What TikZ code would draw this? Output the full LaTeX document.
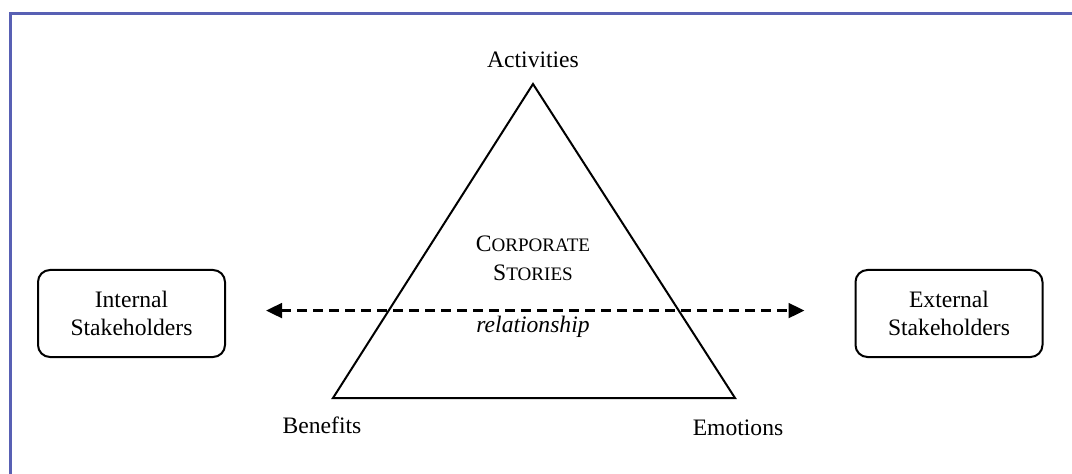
\documentclass[tikz,border=0pt]{standalone}
\usepackage{fontspec}
\setmainfont{Liberation Serif}
\usetikzlibrary{arrows.meta}
\definecolor{framec}{RGB}{88,96,180}
\begin{document}
\begin{tikzpicture}[x=0.75pt,y=-0.75pt,
  lbl/.style={font=\fontsize{17.7}{21}\selectfont, inner sep=0pt, align=center},
  stake/.style={draw, line width=1.5pt, rounded corners=9pt, minimum width=187*0.75pt, minimum height=87*0.75pt, font=\fontsize{17.7}{21}\selectfont, align=center, inner sep=0pt},
  tri/.style={line width=1.5pt, line join=miter},
  rel/.style={line width=2.2pt, dash pattern=on 7.5pt off 4.5pt, {Triangle[length=12pt,width=11pt]}-{Triangle[length=12pt,width=11pt]}}
]
\useasboundingbox (0,0) rectangle (1072,474);
\draw[framec, line width=1.6pt] (10.5,480) -- (10.5,13.5) -- (1080,13.5);
% triangle
\coordinate (A) at (533,84);
\coordinate (B) at (333,398);
\coordinate (C) at (735,398);
\draw[tri] (A) -- (B) -- (C) -- cycle;
% labels
\node[lbl] (act) at (533,60) {Activities};
\node[lbl] (ben) at (322,425) {Benefits};
\node[lbl] (emo) at (738,428) {Emotions};
\node[lbl] (cs) at (533,258) {C{\fontsize{14.3}{21}\selectfont ORPORATE}\\[1pt]S{\fontsize{14.3}{21}\selectfont TORIES}};
\node[lbl, font=\fontsize{17.7}{21}\selectfont\itshape] (rl) at (533,327) {relationship};
% boxes
\node[stake] (int) at (131.5,313.5) {Internal\\Stakeholders};
\node[stake] (ext) at (949,313.5) {External\\Stakeholders};
% arrow
\draw[rel, shorten <=30pt, shorten >=37.5pt] ([yshift=2.2pt]int.east) -- ([yshift=2.2pt]ext.west);
\end{tikzpicture}
\end{document}
